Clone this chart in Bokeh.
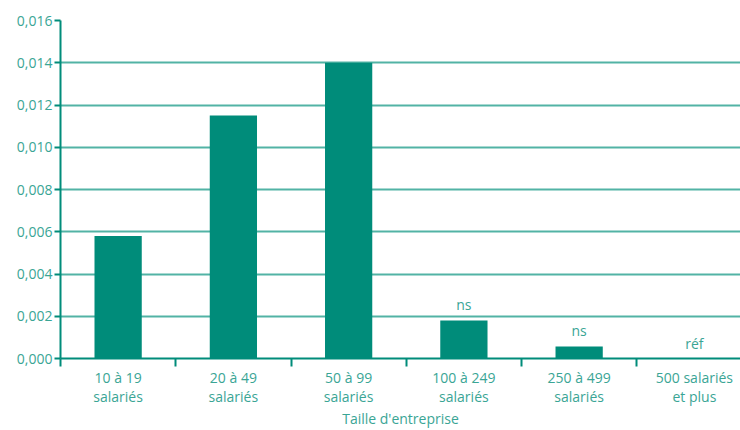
from bokeh.plotting import figure
from bokeh.models import Range1d, FixedTicker, ColumnDataSource
from bokeh.core.properties import value
from bokeh.embed import file_html
from bokeh.resources import INLINE

categories = ["10 à 19\nsalariés", "20 à 49\nsalariés", "50 à 99\nsalariés",
              "100 à 249\nsalariés", "250 à 499\nsalariés", "500 salariés\net plus"]
coefficients = [0.0058, 0.0115, 0.0140, 0.0018, 0.00057, 0.0]
annotations = ["", "", "", "ns", "ns", "réf"]
y_ticks = [0.0, 0.002, 0.004, 0.006, 0.008, 0.010, 0.012, 0.014, 0.016]

BAR = "#008c7a"
TXT = "#3aa595"
GRID = "#52b3a5"
FONT = "Open Sans"

n = len(categories)
centers = [i + 0.5 for i in range(n)]

p = figure(width=740, height=430, output_backend="svg", toolbar_location=None,
           x_range=Range1d(0, 5.9), y_range=Range1d(0, 0.016),
           min_border_left=60, min_border_top=20, min_border_bottom=60,
           min_border_right=0)
p.outline_line_color = None
p.xgrid.grid_line_color = None
p.ygrid.ticker = FixedTicker(ticks=y_ticks)
p.ygrid.grid_line_color = GRID
p.ygrid.grid_line_width = 2

src = ColumnDataSource(dict(x=centers, top=coefficients, lab=annotations))
p.vbar(x="x", top="top", width=0.41, bottom=0, source=src,
       fill_color=BAR, line_color=None)
p.text(x="x", y="top", text="lab", source=src, text_align="center",
       text_baseline="bottom", y_offset=-6, text_color=TXT,
       text_font=value(FONT), text_font_size="14px")

# x axis
xa = p.xaxis[0]
xa.ticker = FixedTicker(ticks=centers, minor_ticks=list(range(n + 1)))
xa.major_label_overrides = {c: lab for c, lab in zip(centers, categories)}
xa.major_tick_line_color = None
xa.major_tick_in = 0
xa.major_tick_out = 0
xa.minor_tick_line_color = BAR
xa.minor_tick_line_width = 2
xa.minor_tick_in = 0
xa.minor_tick_out = 8
xa.axis_line_color = BAR
xa.axis_line_width = 2
xa.major_label_text_color = TXT
xa.major_label_text_font = FONT
xa.major_label_text_font_size = "14px"
xa.major_label_text_line_height = 1.0
xa.major_label_standoff = 1
xa.axis_label = "Taille d'entreprise"
xa.axis_label_text_color = TXT
xa.axis_label_text_font = FONT
xa.axis_label_text_font_size = "14px"
xa.axis_label_text_font_style = "normal"
xa.axis_label_standoff = 0

# y axis
ya = p.yaxis[0]
ya.ticker = FixedTicker(ticks=y_ticks)
ya.major_label_overrides = {t: f"{t:.3f}".replace(".", ",") for t in y_ticks}
ya.minor_tick_line_color = None
ya.major_tick_line_color = BAR
ya.major_tick_line_width = 2
ya.major_tick_in = 0
ya.major_tick_out = 6
ya.axis_line_color = BAR
ya.axis_line_width = 2
ya.major_label_text_color = TXT
ya.major_label_text_font = FONT
ya.major_label_text_font_size = "14px"
ya.major_label_standoff = 2

open("out.html", "w").write(file_html(p, INLINE))
